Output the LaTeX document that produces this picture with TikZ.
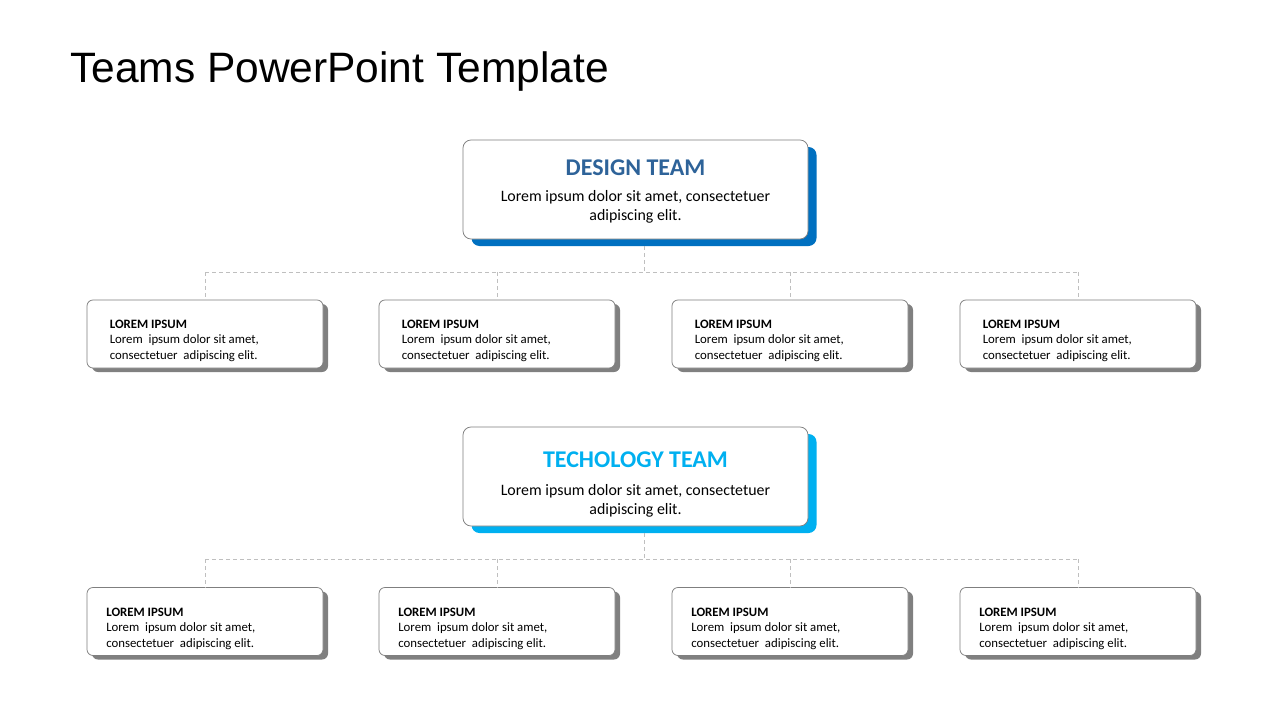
\documentclass[tikz,border=0pt]{standalone}
\usepackage{fontspec}
\setmainfont{Carlito}
\newfontfamily\titlefont{Liberation Sans}
\usepackage{tikz}
\usetikzlibrary{shadows}
\definecolor{designhead}{RGB}{46, 99, 153}
\definecolor{designshade}{RGB}{0, 112, 192}
\definecolor{techhead}{RGB}{0, 176, 240}
\definecolor{boxline}{RGB}{127, 127, 127}
\definecolor{childshade}{RGB}{128, 128, 128}
\definecolor{busline}{RGB}{191, 191, 191}

\tikzset{
  teambox/.style={draw=boxline, line width=0.75pt, fill=white, rounded corners=8pt,
    minimum width=345pt, minimum height=99pt, inner sep=0pt},
  teamhead/.style={anchor=base, inner sep=0pt, font=\fontsize{24}{26}\selectfont\bfseries},
  teamtext/.style={align=center, inner sep=0pt, font=\fontsize{15.9}{19}\selectfont},
  childbox/.style={draw=boxline, line width=0.75pt, fill=white, rounded corners=6pt,
    minimum width=236pt, minimum height=68pt, inner sep=0pt,
    drop shadow={shadow xshift=5pt, shadow yshift=-4pt, fill=childshade, opacity=1}},
  childtext/.style={anchor=west, align=left, inner sep=0pt, font=\fontsize{12.8}{15.6}\selectfont},
  link/.style={draw=busline, line width=0.9pt, dash pattern=on 4pt off 3pt}
}

\begin{document}
\begin{tikzpicture}[x=1pt, y=-1pt]
  \fill[white] (0,0) rectangle (1280,720);
  \node[anchor=base west, inner sep=0pt, font=\titlefont\fontsize{42.5}{42}\selectfont] (title) at (70,82) {Teams PowerPoint Template};

  % design team and its four boxes
  \node[teambox, drop shadow={shadow xshift=8.5pt, shadow yshift=-7pt, fill=designshade, opacity=1}]
    (design) at (635.5,189.5) {};
  \node[teamhead, text=designhead] (designhead) at ([yshift=-35.5pt]design.north) {DESIGN TEAM};
  \node[teamtext] (designtxt) at ([yshift=-67pt]design.north)
    {Lorem ipsum dolor sit amet, consectetuer\\ adipiscing elit.};
  \foreach \n/\x in {d1/205, d2/497, d3/790, d4/1078} {
    \node[childbox] (\n) at (\x,334) {};
    \node[childtext] (\n txt) at ([xshift=23pt, yshift=-41pt]\n.north west)
      {\textbf{LOREM IPSUM}\\ Lorem\ \ ipsum dolor sit amet,\\ consectetuer\ \ adipiscing elit.};
  }
  \coordinate (dbus) at (644,272);
  \draw[link] ([xshift=8.5pt, yshift=-7pt]design.south) -- (dbus);
  \draw[link] (d1.north |- dbus) -- (d4.north |- dbus);
  \foreach \n in {d1, d2, d3, d4}
    \draw[link] (\n.north |- dbus) -- (\n.north);

  % technology team and its four boxes
  \node[teambox, drop shadow={shadow xshift=8.5pt, shadow yshift=-7pt, fill=techhead, opacity=1}]
    (tech) at (635.5,476.5) {};
  \node[teamhead, text=techhead] (techhead) at ([yshift=-40.5pt]tech.north) {TECHOLOGY TEAM};
  \node[teamtext] (techtxt) at ([yshift=-74.5pt]tech.north)
    {Lorem ipsum dolor sit amet, consectetuer\\ adipiscing elit.};
  \foreach \n/\x in {t1/205, t2/497, t3/790, t4/1078} {
    \node[childbox] (\n) at (\x,621.5) {};
    \node[childtext] (\n txt) at ([xshift=19.5pt, yshift=-41.5pt]\n.north west)
      {\textbf{LOREM IPSUM}\\ Lorem\ \ ipsum dolor sit amet,\\ consectetuer\ \ adipiscing elit.};
  }
  \coordinate (tbus) at (644,559);
  \draw[link] ([xshift=8.5pt, yshift=-7pt]tech.south) -- (tbus);
  \draw[link] (t1.north |- tbus) -- (t4.north |- tbus);
  \foreach \n in {t1, t2, t3, t4}
    \draw[link] (\n.north |- tbus) -- (\n.north);
\end{tikzpicture}
\end{document}
